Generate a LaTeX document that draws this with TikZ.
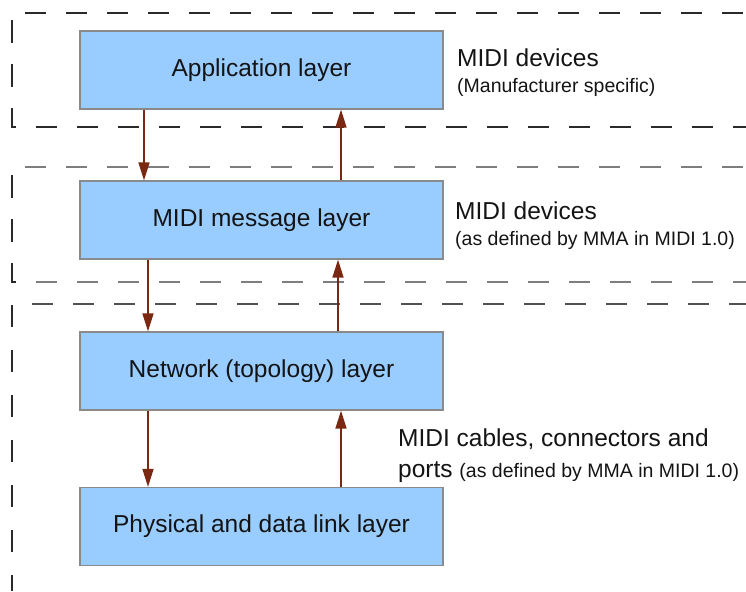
\documentclass[tikz,border=0pt]{standalone}
\usepackage{fontspec}
\setmainfont{Liberation Sans}
\usetikzlibrary{arrows.meta}
\definecolor{boxfill}{HTML}{99CCFF}
\definecolor{boxline}{HTML}{8A8A8A}
\definecolor{arrcol}{HTML}{7A2812}
\definecolor{dashdark}{HTML}{2A2A2A}
\definecolor{dashmid}{HTML}{505050}
\definecolor{dashgray}{HTML}{7E7E7E}
\definecolor{txtcol}{HTML}{141414}
\newcommand{\bigtxt}{\fontsize{24.5}{29}\selectfont}
\newcommand{\smalltxt}{\fontsize{19.5}{23}\selectfont}
\tikzset{
  layerbox/.style={draw=boxline, line width=1.2pt, fill=boxfill, minimum width=363pt, minimum height=78pt, inner sep=0pt, font=\bigtxt, text=txtcol},
  arr/.style={draw=arrcol, line width=1.5pt, -{Triangle[length=18pt,width=11pt]}},
  dashblack/.style={draw=dashdark, line width=1.7pt, dash pattern=on 21pt off 20pt},
  dashvert/.style={draw=dashdark, line width=1.7pt, dash pattern=on 23pt off 21pt},
  dashgrey/.style={draw=dashgray, line width=2.2pt, dash pattern=on 21pt off 20pt},
  lbl/.style={anchor=base west, inner sep=0pt, text=txtcol}
}
\begin{document}
\begin{tikzpicture}[x=1pt,y=-1pt]
\useasboundingbox (0,0) rectangle (746,591);
% group 1 frame
\draw[dashblack] (25,13) -- (746,13);
\draw[dashvert] (12,20) -- (12,127) -- (17,127);
\draw[dashblack] (36,127) -- (746,127);
% group 2 frame
\draw[dashgrey] (25,167) -- (746,167);
\draw[dashvert] (12,175) -- (12,282) -- (17,282);
\draw[dashgrey] (36,282) -- (746,282);
% group 3 frame
\draw[dashblack, draw=dashmid, line width=2pt] (32,304) -- (746,304);
\draw[dashvert, dash pattern=on 22pt off 23pt] (12,305) -- (12,591);
% boxes
\node[layerbox] (app) at (261.5,70) {Application layer};
\node[layerbox] (msg) at (261.5,220) {MIDI message layer};
\node[layerbox] (net) at (261.5,371) {Network (topology) layer};
\node[layerbox] (phy) at (261.5,526.5) {Physical and data link layer};
% arrow columns
\coordinate (d1) at (144,0);
\coordinate (u1) at (341,0);
\coordinate (d2) at (148,0);
\coordinate (u2) at (338,0);
\coordinate (d3) at (148,0);
\coordinate (u3) at (341,0);
\draw[arr] (app.south -| d1) -- (msg.north -| d1);
\draw[arr] (msg.north -| u1) -- (app.south -| u1);
\draw[arr] (msg.south -| d2) -- (net.north -| d2);
\draw[arr] (net.north -| u2) -- (msg.south -| u2);
\draw[arr] (net.south -| d3) -- (phy.north -| d3);
\draw[arr] (phy.north -| u3) -- (net.south -| u3);
% labels
\node[lbl, font=\bigtxt] (l1a) at (457,67) {MIDI devices};
\node[lbl, font=\smalltxt] (l1b) at (457,93) {(Manufacturer specific)};
\node[lbl, font=\bigtxt] (l2a) at (455,219) {MIDI devices};
\node[lbl, font=\smalltxt] (l2b) at (455,245) {(as defined by MMA in MIDI 1.0)};
\node[lbl, font=\bigtxt] (l3a) at (398,446) {MIDI cables, connectors and};
\node[lbl, font=\bigtxt] (l3b) at (398,477) {ports {\smalltxt(as defined by MMA in MIDI 1.0)}};
\end{tikzpicture}
\end{document}
